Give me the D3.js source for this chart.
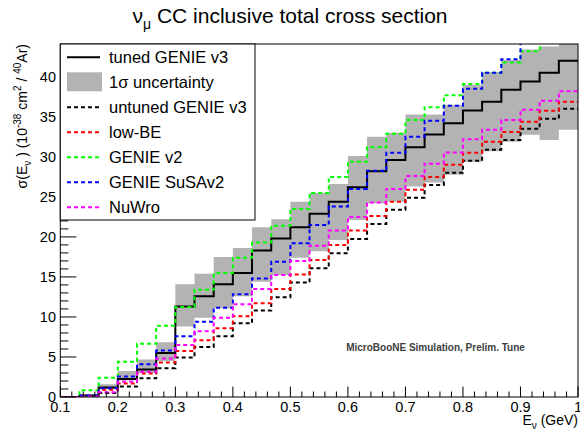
<!DOCTYPE html>
<html><head><meta charset="utf-8">
<script src="https://cdn.jsdelivr.net/npm/d3@7"></script>
<style>
body{margin:0;background:#fff;}
svg{display:block;font-family:"Liberation Sans",Arial,sans-serif;}
</style></head>
<body><svg id="c" width="580" height="435"></svg>
<script>
// bin edges (GeV)
const binEdges = [0.1000,0.1333,0.1667,0.2000,0.2333,0.2667,0.3000,0.3333,0.3667,0.4000,0.4333,0.4667,0.5000,0.5333,0.5667,0.6000,0.6333,0.6667,0.7000,0.7333,0.7667,0.8000,0.8333,0.8667,0.9000,0.9333,0.9667,1.0000];
const tunedV3   = [0,0.2,1.2,2.25,3.45,5.5,11.3,12.6,14.1,15.5,18.3,19.8,21.2,22.9,24.4,26.2,28.2,29.6,31.2,32.8,34.2,35.8,36.9,38.4,39.4,40.5,42.0];
const bandLow   = [0,0.1,1.0,2.05,3.0,4.5,8.8,9.9,11.1,12.6,14.4,15.25,17.4,18.2,19.6,22.1,24.2,24.4,26.3,26.8,27.75,29.4,30.7,31.9,32.75,32.1,33.4];
const bandHigh  = [0,0.3,1.6,3.25,4.7,6.85,14.1,15.4,17.5,18.6,21.2,22.2,24.4,25.5,26.6,30.1,32.5,33.0,35.3,35.3,36.5,39.0,40.6,42.1,43.4,43.8,46.0];
const untunedV3 = [0,0.05,0.5,1.3,2.35,3.6,4.95,6.25,7.6,9.2,10.8,12.45,14.3,16.1,17.95,19.75,21.6,23.4,24.9,26.5,28.0,29.5,30.9,32.1,33.5,34.75,36.0];
const lowBE     = [0,0.05,0.9,1.7,2.95,4.3,5.75,7.1,8.6,10.1,11.7,13.5,15.3,17.1,19.0,20.8,22.6,24.4,25.9,27.5,29.0,30.5,31.9,33.1,34.4,35.75,36.9];
const genieV2   = [0,0.85,2.4,4.4,6.65,8.9,11.25,13.4,15.5,17.4,19.3,21.4,23.5,25.5,27.5,29.4,31.2,32.9,34.6,36.2,37.7,39.1,40.5,41.8,43.2,44.6,46.0];
const susav2    = [0,0.2,1.1,2.55,4.1,5.8,7.6,9.4,11.15,12.85,14.8,16.9,19.2,21.5,23.8,26.0,28.25,30.5,32.5,34.5,36.4,38.5,40.5,42.2,45.0,46.5,48.0];
const nuwro     = [0,0.05,0.6,1.9,3.15,4.8,6.5,8.2,9.9,11.6,13.5,15.25,17.0,18.9,20.8,22.5,24.3,26.0,27.6,29.15,30.55,32.2,33.4,34.6,35.9,37.0,38.2];
const xTicks = [0.1,0.2,0.3,0.4,0.5,0.6,0.7,0.8,0.9,1];
const yTicks = [0,5,10,15,20,25,30,35,40];
const legendNames = ["tuned GENIE v3","1\u03c3 uncertainty","untuned GENIE v3","low-BE","GENIE v2","GENIE SuSAv2","NuWro"];

const svg = d3.select("#c");
const L=60.3, R=578, T=44, B=397;
const x = d3.scaleLinear().domain([0.1,1.0]).range([L,R]);
const y = d3.scaleLinear().domain([0,44.1]).range([B,T]);

svg.append("defs").append("clipPath").attr("id","clip")
  .append("rect").attr("x",L).attr("y",T).attr("width",R-L).attr("height",B-T);

const pts = vals => binEdges.map((e,i)=>({x:e, v: vals[Math.min(i, vals.length-1)]}));
const line = d3.line().curve(d3.curveStepAfter).x(d=>x(d.x)).y(d=>y(d.v));
const band = binEdges.map((e,i)=>({x:e, lo:bandLow[Math.min(i,26)], hi:bandHigh[Math.min(i,26)]}));
const area = d3.area().curve(d3.curveStepAfter).x(d=>x(d.x)).y0(d=>y(d.lo)).y1(d=>y(d.hi));

const g = svg.append("g").attr("clip-path","url(#clip)");
const grey = "#b3b3b3";
g.append("path").attr("d",area(band)).attr("fill",grey);
g.append("path").attr("d",line(pts(tunedV3))).attr("fill","none").attr("stroke","#000").attr("stroke-width",2);
const dashed = [[untunedV3,"#000"],[lowBE,"#ff0000"],[genieV2,"#00ff00"],[susav2,"#0000ff"],[nuwro,"#ff00ff"]];
dashed.forEach(([v,c])=>{
  g.append("path").attr("d",line(pts(v))).attr("fill","none").attr("stroke",c)
   .attr("stroke-width",2).attr("stroke-dasharray","4,3");
});

// frame
svg.append("rect").attr("x",L).attr("y",T).attr("width",R-L).attr("height",B-T)
  .attr("fill","none").attr("stroke","#000").attr("stroke-width",1);

// x axis ticks (inside)
const xMinor = d3.range(0.1,1.0001,0.02);
const ax = svg.append("g").attr("stroke","#000").attr("stroke-width",1);
xMinor.forEach(t=>{
  const isMaj = xTicks.some(m=>Math.abs(m-t)<1e-6);
  ax.append("line").attr("x1",x(t)).attr("x2",x(t)).attr("y1",B).attr("y2",B-(isMaj?10.5:5.5));
});
const yMinor = d3.range(0,44.01,1);
yMinor.forEach(t=>{
  const isMaj = t%5===0;
  ax.append("line").attr("x1",L).attr("x2",L+(isMaj?16:8)).attr("y1",y(t)).attr("y2",y(t));
});
svg.append("g").selectAll("text").data(xTicks).join("text")
  .attr("x",d=>x(d)).attr("y",412).attr("text-anchor","middle").attr("font-size",14.5)
  .text(d=>d===1?"1":d3.format(".1f")(d));
svg.append("g").selectAll("text").data(yTicks).join("text")
  .attr("x",56).attr("y",d=>y(d)+5).attr("text-anchor","end").attr("font-size",14.5)
  .text(d=>d);

// axis titles
const xt = svg.append("text").attr("x",578).attr("y",425).attr("text-anchor","end").attr("font-size",14);
xt.append("tspan").text("E");
xt.append("tspan").attr("font-size",10).attr("dy",4).text("\u03bd");
xt.append("tspan").attr("dy",-4).text(" (GeV)");

const yt = svg.append("text").attr("transform","translate(27,44) rotate(-90)").attr("text-anchor","end").attr("font-size",14);
yt.append("tspan").text("\u03c3(E");
yt.append("tspan").attr("font-size",10).attr("dy",4).text("\u03bd");
yt.append("tspan").attr("dy",-4).text(" ) (10");
yt.append("tspan").attr("font-size",10).attr("dy",-6).text("-38");
yt.append("tspan").attr("dy",6).text(" cm");
yt.append("tspan").attr("font-size",10).attr("dy",-6).text("2");
yt.append("tspan").attr("dy",6).text(" / ");
yt.append("tspan").attr("font-size",10).attr("dy",-6).text("40");
yt.append("tspan").attr("dy",6).text("Ar)");

// title
const tt = svg.append("text").attr("x",290).attr("y",23).attr("text-anchor","middle").attr("font-size",21);
tt.append("tspan").text("\u03bd");
tt.append("tspan").attr("font-size",14).attr("dy",6).text("\u03bc");
tt.append("tspan").attr("dy",-6).text(" CC inclusive total cross section");

// annotation
svg.append("text").attr("x",435.5).attr("y",351).attr("text-anchor","middle")
  .attr("font-size",10).attr("font-weight","bold").attr("fill","#404040")
  .text("MicroBooNE Simulation, Prelim. Tune");

// legend
const lg = svg.append("g");
lg.append("rect").attr("x",L).attr("y",T).attr("width",255-L).attr("height",220-T)
  .attr("fill","#fff").attr("stroke","#000").attr("stroke-width",1);
const rowY = i => 57.3 + i*25;
const legStyles = [
  {type:"line",c:"#000",dash:null},
  {type:"box"},
  {type:"line",c:"#000",dash:"4,3"},
  {type:"line",c:"#ff0000",dash:"4,3"},
  {type:"line",c:"#00ff00",dash:"4,3"},
  {type:"line",c:"#0000ff",dash:"4,3"},
  {type:"line",c:"#ff00ff",dash:"4,3"}
];
legendNames.forEach((n,i)=>{
  const s = legStyles[i], cy = rowY(i);
  if(s.type==="box"){
    lg.append("rect").attr("x",67).attr("y",cy-10).attr("width",35).attr("height",19).attr("fill",grey);
  } else {
    const l = lg.append("line").attr("x1",67).attr("x2",100).attr("y1",cy).attr("y2",cy)
      .attr("stroke",s.c).attr("stroke-width",2);
    if(s.dash) l.attr("stroke-dasharray",s.dash);
  }
  lg.append("text").attr("x",109).attr("y",cy+6).attr("font-size",16.5).text(n);
});
</script></body></html>
